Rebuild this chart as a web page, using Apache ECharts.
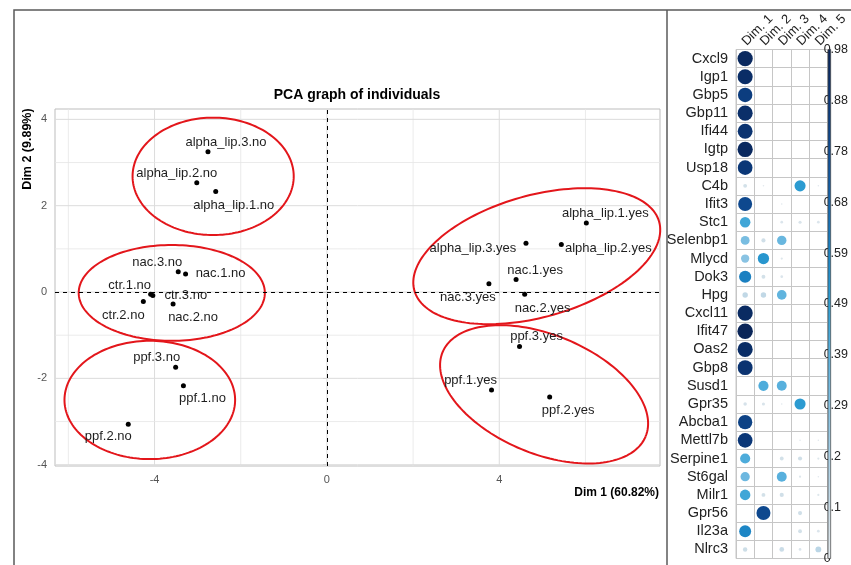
<!DOCTYPE html>
<html>
<head>
<meta charset="utf-8">
<script src="https://cdn.jsdelivr.net/npm/echarts@6/dist/echarts.min.js"></script>
<style>
  html, body { margin: 0; padding: 0; background: #ffffff; }
  #chart { width: 851px; height: 565px; }
</style>
</head>
<body>
<div id="chart"></div>
<script>
// ---- PCA scores of the individuals (Dim 1 / Dim 2) ----
const individuals = [
  'alpha_lip.1.no', 'alpha_lip.2.no', 'alpha_lip.3.no',
  'ctr.1.no', 'ctr.2.no', 'ctr.3.no',
  'nac.1.no', 'nac.2.no', 'nac.3.no',
  'ppf.1.no', 'ppf.2.no', 'ppf.3.no',
  'alpha_lip.1.yes', 'alpha_lip.2.yes', 'alpha_lip.3.yes',
  'nac.1.yes', 'nac.2.yes', 'nac.3.yes',
  'ppf.1.yes', 'ppf.2.yes', 'ppf.3.yes'
];
const dim1Scores = [-2.58, -3.02, -2.76, -4.09, -4.26, -4.04, -3.28, -3.57, -3.45, -3.33, -4.61, -3.51,
                    6.02, 5.44, 4.62, 4.39, 4.59, 3.76, 3.82, 5.17, 4.47];
const dim2Scores = [2.33, 2.53, 3.25, -0.05, -0.22, -0.08, 0.42, -0.28, 0.47, -2.17, -3.06, -1.74,
                    1.60, 1.10, 1.13, 0.29, -0.05, 0.19, -2.27, -2.43, -1.26];

// ---- group ellipses (data units) ----
const ellipseCx    = [-2.64, -3.60, -4.11, 4.87, 5.04];
const ellipseCy    = [2.68, -0.02, -2.50, 0.83, -2.37];
const ellipseA     = [1.87, 2.16, 1.98, 2.95, 2.55];
const ellipseB     = [1.36, 1.11, 1.37, 1.41, 1.375];
const ellipseAngle = [0, 0, 0, 15.7, -22.5];

// ---- axis breaks ----
const xMajorBreaks = [-4, 0, 4];
const xGridBreaks  = [-6, -4, -2, 0, 2, 4, 6];
const yMajorBreaks = [-4, -2, 0, 2, 4];
const yGridBreaks  = [-4, -3, -2, -1, 0, 1, 2, 3, 4];
const xRange = [-6.31, 7.73];
const yRange = [-4.03, 4.24];

// ---- variable quality of representation (cos2) on Dim. 1..5 ----
const dims  = ['Dim. 1', 'Dim. 2', 'Dim. 3', 'Dim. 4', 'Dim. 5'];
const genes = ['Cxcl9', 'Igp1', 'Gbp5', 'Gbp11', 'Ifi44', 'Igtp', 'Usp18', 'C4b', 'Ifit3', 'Stc1',
               'Selenbp1', 'Mlycd', 'Dok3', 'Hpg', 'Cxcl11', 'Ifit47', 'Oas2', 'Gbp8', 'Susd1', 'Gpr35',
               'Abcba1', 'Mettl7b', 'Serpine1', 'St6gal', 'Milr1', 'Gpr56', 'Il23a', 'Nlrc3'];
const cos2Dim1 = [0.95, 0.93, 0.85, 0.92, 0.90, 0.95, 0.88, 0.06, 0.80, 0.45,
                  0.32, 0.28, 0.60, 0.12, 0.94, 0.97, 0.93, 0.90, 0, 0.05,
                  0.83, 0.88, 0.42, 0.35, 0.45, 0, 0.58, 0.08];
const cos2Dim2 = [0, 0, 0, 0, 0, 0, 0, 0.01, 0, 0,
                  0.07, 0.52, 0.06, 0.12, 0, 0, 0, 0, 0.42, 0.04,
                  0, 0, 0, 0, 0.06, 0.80, 0, 0];
const cos2Dim3 = [0, 0, 0, 0, 0, 0, 0, 0, 0.01, 0.03,
                  0.36, 0.02, 0.03, 0.38, 0, 0, 0, 0, 0.40, 0.01,
                  0, 0, 0.06, 0.40, 0.07, 0, 0, 0.09];
const cos2Dim4 = [0, 0, 0, 0, 0, 0, 0, 0.50, 0, 0.04,
                  0, 0, 0, 0, 0, 0, 0, 0, 0, 0.50,
                  0, 0.01, 0.07, 0.02, 0, 0.07, 0.06, 0.03];
const cos2Dim5 = [0, 0, 0, 0, 0, 0, 0, 0.01, 0, 0.03,
                  0, 0, 0, 0, 0, 0, 0, 0, 0, 0,
                  0, 0.01, 0.02, 0.01, 0.02, 0, 0.03, 0.14];
const cos2Max = 0.977;
const colorbarLabels = ['0', '0.1', '0.2', '0.29', '0.39', '0.49', '0.59', '0.68', '0.78', '0.88', '0.98'];

// ---- styling ----
const FONT = '"Liberation Sans", Arial, Helvetica, sans-serif';
const corrColors = ['#e4eaee', '#c8dbe6', '#a9d0e6', '#84c1e2', '#5cb2de', '#2e9ed3',
                    '#1c84c4', '#1565ad', '#0f4c93', '#0b3777', '#0a2456'];
const labelOffsets = {
  'alpha_lip.3.no': [18, -9.5], 'alpha_lip.2.no': [-20, -9.4], 'alpha_lip.1.no': [18, 14],
  'nac.3.no': [-21, -9.4], 'nac.1.no': [35, 0], 'ctr.1.no': [-21, -9], 'ctr.3.no': [33, 0],
  'ctr.2.no': [-20, 14], 'nac.2.no': [20, 13], 'ppf.3.no': [-19, -10], 'ppf.1.no': [19, 12.7],
  'ppf.2.no': [-20, 12.7], 'alpha_lip.1.yes': [19, -9.4], 'alpha_lip.3.yes': [-53, 5],
  'alpha_lip.2.yes': [47, 3.6], 'nac.1.yes': [19, -9.3], 'nac.3.yes': [-21, 13.6],
  'nac.2.yes': [18, 14], 'ppf.3.yes': [17, -9.6], 'ppf.1.yes': [-21, -10], 'ppf.2.yes': [18.5, 13]
};

// ---- derived series data ----
const pointData = individuals.map((name, i) => ({
  name: name,
  value: [dim1Scores[i], dim2Scores[i]],
  label: { offset: labelOffsets[name] || [0, 0] }
}));

const gridLineData = xGridBreaks.map(v => [0, v, xMajorBreaks.includes(v) ? 1 : 0])
  .concat(yGridBreaks.map(v => [1, v, yMajorBreaks.includes(v) ? 1 : 0]));

const ellipseData = ellipseCx.map((_, i) => [i]);

const cos2ByDim = [cos2Dim1, cos2Dim2, cos2Dim3, cos2Dim4, cos2Dim5];
const corrData = [];
genes.forEach((g, i) => {
  cos2ByDim.forEach((col, j) => {
    if (col[i] > 0) corrData.push([j, i, col[i]]);
  });
});
const headerData = dims.map((d, j) => [j, 0]);

const chart = echarts.init(document.getElementById('chart'), null, { renderer: 'canvas' });

const option = {
  animation: false,
  backgroundColor: '#ffffff',
  grid: [
    { left: 55, top: 109, width: 605, height: 357, show: true, borderColor: '#bdbdbd', borderWidth: 1, backgroundColor: 'transparent' },
    { left: 736, top: 49.5, width: 91.5, height: 509, show: true, borderColor: '#c6c6c6', borderWidth: 1, backgroundColor: 'transparent' },
    { left: 828, top: 49.5, width: 3, height: 509.5 }
  ],
  xAxis: [
    {
      gridIndex: 0, type: 'value', min: xRange[0], max: xRange[1],
      splitLine: { show: false }, axisLine: { show: false },
      axisTick: { show: true, customValues: xMajorBreaks, length: 4, lineStyle: { color: '#b3b3b3' } },
      axisLabel: { customValues: xMajorBreaks, color: '#555', fontSize: 11, fontFamily: FONT, margin: 8 }
    },
    {
      gridIndex: 1, type: 'category', data: dims, position: 'top', boundaryGap: true,
      axisLine: { show: false }, axisTick: { show: false },
      splitLine: { show: true, interval: 0, lineStyle: { color: '#c6c6c6', width: 1 } },
      axisLabel: { show: false }
    },
    { gridIndex: 2, type: 'value', min: 0, max: 1, show: false }
  ],
  yAxis: [
    {
      gridIndex: 0, type: 'value', min: yRange[0], max: yRange[1],
      splitLine: { show: false }, axisLine: { show: false },
      axisTick: { show: true, customValues: yMajorBreaks, length: 4, lineStyle: { color: '#b3b3b3' } },
      axisLabel: { customValues: yMajorBreaks, color: '#555', fontSize: 11, fontFamily: FONT, margin: 8 }
    },
    {
      gridIndex: 1, type: 'category', data: genes, inverse: true, boundaryGap: true,
      axisLine: { show: false }, axisTick: { show: false },
      splitLine: { show: true, interval: 0, lineStyle: { color: '#c6c6c6', width: 1 } },
      axisLabel: { interval: 0, color: '#222', fontSize: 14.5, fontFamily: FONT, margin: 8 }
    },
    {
      gridIndex: 2, type: 'value', min: 0, max: 10, interval: 1, position: 'right',
      axisLine: { show: false }, axisTick: { show: false }, splitLine: { show: false },
      axisLabel: { formatter: v => colorbarLabels[v] || '', color: '#222', fontSize: 12.5, fontFamily: FONT, margin: -7 }
    }
  ],
  visualMap: {
    show: false, type: 'continuous', seriesIndex: 3, dimension: 2,
    min: 0, max: cos2Max, inRange: { color: corrColors }
  },
  series: [
    {
      // panel grid lines
      type: 'custom', xAxisIndex: 0, yAxisIndex: 0, z: 1, silent: true,
      data: gridLineData,
      renderItem: function (params, api) {
        const horiz = api.value(0) === 1;
        const v = api.value(1);
        const major = api.value(2) === 1;
        const p1 = horiz ? api.coord([xRange[0], v]) : api.coord([v, yRange[0]]);
        const p2 = horiz ? api.coord([xRange[1], v]) : api.coord([v, yRange[1]]);
        return {
          type: 'line',
          shape: { x1: p1[0], y1: p1[1], x2: p2[0], y2: p2[1] },
          style: { stroke: major ? '#dcdcdc' : '#e6e6e6', lineWidth: major ? 1 : 0.8 }
        };
      }
    },
    {
      // group ellipses
      type: 'custom', xAxisIndex: 0, yAxisIndex: 0, z: 3, silent: true,
      data: ellipseData,
      renderItem: function (params, api) {
        const i = api.value(0);
        const th = ellipseAngle[i] * Math.PI / 180;
        const pts = [];
        for (let k = 0; k <= 160; k++) {
          const t = 2 * Math.PI * k / 160;
          const ex = ellipseA[i] * Math.cos(t), ey = ellipseB[i] * Math.sin(t);
          const x = ellipseCx[i] + ex * Math.cos(th) - ey * Math.sin(th);
          const y = ellipseCy[i] + ex * Math.sin(th) + ey * Math.cos(th);
          pts.push(api.coord([x, y]));
        }
        return {
          type: 'polyline',
          shape: { points: pts },
          style: { stroke: '#e3161b', lineWidth: 2, fill: null }
        };
      }
    },
    {
      // individuals
      type: 'scatter', xAxisIndex: 0, yAxisIndex: 0, z: 5,
      symbol: 'circle', symbolSize: 5,
      itemStyle: { color: '#000000', opacity: 1 },
      data: pointData,
      label: {
        show: true, position: 'inside', formatter: '{b}',
        color: '#1e1e1e', fontSize: 13, fontFamily: FONT
      },
      markLine: {
        silent: true, symbol: ['none', 'none'], label: { show: false },
        lineStyle: { color: '#000', type: [4, 4], width: 1 },
        data: [{ xAxis: 0 }, { yAxis: 0 }]
      }
    },
    {
      // cos2 dot matrix
      type: 'scatter', xAxisIndex: 1, yAxisIndex: 1, z: 5,
      symbol: 'circle',
      itemStyle: { opacity: 1 },
      symbolSize: val => 15.5 * Math.sqrt(val[2] / cos2Max),
      data: corrData
    },
    {
      // colour legend bar
      type: 'custom', xAxisIndex: 2, yAxisIndex: 2, z: 6, silent: true,
      data: [[0, 0]],
      renderItem: function (params, api) {
        const p0 = api.coord([0, 10]);
        const p1 = api.coord([1, 0]);
        const n = corrColors.length;
        return {
          type: 'rect',
          shape: { x: p0[0], y: p0[1], width: p1[0] - p0[0], height: p1[1] - p0[1] },
          style: {
            fill: new echarts.graphic.LinearGradient(0, 1, 0, 0,
              corrColors.map((c, k) => ({ offset: k / (n - 1), color: c }))),
            stroke: '#444', lineWidth: 0.7
          }
        };
      }
    },
    {
      // rotated column headers above the dot matrix
      type: 'custom', xAxisIndex: 1, yAxisIndex: 1, z: 6, silent: true,
      data: headerData,
      renderItem: function (params, api) {
        const j = api.value(0);
        const c = api.coord([j, 0]);
        const rowH = api.size([0, 1])[1];
        return {
          type: 'text',
          x: c[0] - 1,
          y: c[1] - rowH / 2 - 6,
          rotation: Math.PI / 4,
          style: {
            text: dims[j], fill: '#222', font: '13px ' + FONT,
            align: 'left', verticalAlign: 'middle'
          }
        };
      }
    }
  ],
  graphic: [
    { type: 'polyline', shape: { points: [[14, 565], [14, 10], [851, 10]] },
      style: { stroke: '#5a5a5a', lineWidth: 1.5, fill: null }, silent: true },
    { type: 'line', shape: { x1: 667, y1: 10, x2: 667, y2: 565 },
      style: { stroke: '#5a5a5a', lineWidth: 1.5 }, silent: true },
    { type: 'text', x: 357, y: 95, silent: true,
      style: { text: 'PCA graph of individuals', fill: '#000', font: 'bold 14px ' + FONT, align: 'center', verticalAlign: 'middle' } },
    { type: 'text', x: 659, y: 493, silent: true,
      style: { text: 'Dim 1 (60.82%)', fill: '#000', font: 'bold 12px ' + FONT, align: 'right', verticalAlign: 'middle' } },
    { type: 'text', x: 28, y: 149, rotation: Math.PI / 2, silent: true,
      style: { text: 'Dim 2 (9.89%)', fill: '#000', font: 'bold 12.5px ' + FONT, align: 'center', verticalAlign: 'middle' } }
  ]
};

chart.setOption(option);
</script>
</body>
</html>
